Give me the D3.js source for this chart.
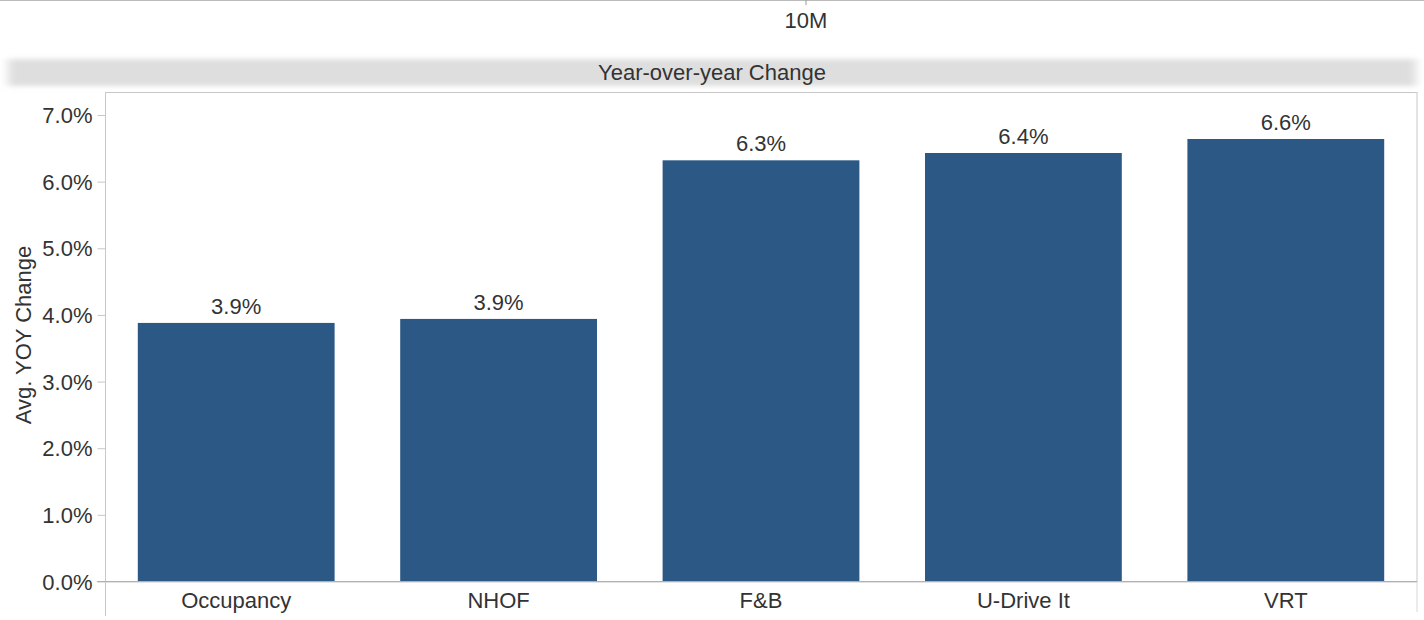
<!DOCTYPE html>
<html><head><meta charset="utf-8">
<script src="https://cdn.jsdelivr.net/npm/d3@7"></script>
<style>body{margin:0;background:#fff;}svg{display:block;font-family:Arial,"Liberation Sans",sans-serif;}</style>
</head><body>
<svg id="c" width="1424" height="620"></svg>
<script>
const categories = ["Occupancy","NHOF","F&B","U-Drive It","VRT"];
const values = [0.0388, 0.0394, 0.0632, 0.0643, 0.0664];
const yTicks = [0,0.01,0.02,0.03,0.04,0.05,0.06,0.07];
const title = "Year-over-year Change";
const yTitle = "Avg. YOY Change";
const topAxisLabel = "10M";

const svg = d3.select("#c");
const W = 1424, H = 620;
const L = 105, R = 1417, T = 92, B = 581.5;
const textColor = "#333";

// top remnant axis
svg.append("line").attr("x1",0).attr("x2",W).attr("y1",0.5).attr("y2",0.5).attr("stroke","#bbb");
svg.append("line").attr("x1",806).attr("x2",806).attr("y1",0).attr("y2",5).attr("stroke","#999");
svg.append("text").attr("x",806).attr("y",28).attr("text-anchor","middle").attr("font-size",22).attr("fill",textColor).text(topAxisLabel);

// header band
const defs = svg.append("defs");
defs.append("filter").attr("id","blur").attr("x","-5%").attr("y","-50%").attr("width","110%").attr("height","200%")
  .append("feGaussianBlur").attr("stdDeviation","5 2.5");
svg.append("rect").attr("x",8).attr("y",59).attr("width",W-16).attr("height",27).attr("fill","#dedede").attr("filter","url(#blur)");
svg.append("text").attr("x",W/2).attr("y",80).attr("text-anchor","middle").attr("font-size",22).attr("fill",textColor).text(title);

const x = d3.scaleBand().domain(categories).range([L,R]).paddingInner(0.25).paddingOuter(0.125);
const y = d3.scaleLinear().domain([0,0.07]).range([B,115]);

// frame
svg.append("rect").attr("x",L+0.5).attr("y",T+0.5).attr("width",R-L-0.5).attr("height",B-T).attr("fill","none").attr("stroke","#c8c8c8");
svg.append("line").attr("x1",L+0.5).attr("x2",L+0.5).attr("y1",B).attr("y2",616).attr("stroke","#c8c8c8");
svg.append("line").attr("x1",R).attr("x2",R).attr("y1",B).attr("y2",612).attr("stroke","#d8d8d8");

// bars
svg.append("g").selectAll("rect").data(categories).join("rect")
  .attr("x",d=>x(d)).attr("width",x.bandwidth())
  .attr("y",(d,i)=>y(values[i])).attr("height",(d,i)=>B-y(values[i]))
  .attr("fill","#2c5886");

// value labels
svg.append("g").selectAll("text").data(categories).join("text")
  .attr("x",d=>x(d)+x.bandwidth()/2).attr("y",(d,i)=>y(values[i])-9)
  .attr("text-anchor","middle").attr("font-size",22).attr("fill",textColor)
  .text((d,i)=>d3.format(".1%")(values[i]));

// y axis
const ya = svg.append("g").attr("transform",`translate(${L+0.5},0)`)
  .call(d3.axisLeft(y).tickValues(yTicks).tickFormat(d3.format(".1%")).tickSize(8).tickPadding(5));
ya.select(".domain").remove();
ya.selectAll(".tick line").attr("stroke","#c8c8c8");
ya.selectAll(".tick text").attr("font-size",22).attr("fill",textColor).attr("font-family","Arial, 'Liberation Sans', sans-serif").attr("dy","0.35em");

// x axis baseline
svg.append("line").attr("x1",97).attr("x2",R).attr("y1",B).attr("y2",B).attr("stroke","#b0b0b0");

// x labels
const xa = svg.append("g").attr("transform",`translate(0,${B})`)
  .call(d3.axisBottom(x).tickSize(0).tickPadding(0));
xa.select(".domain").remove();
xa.selectAll(".tick text").attr("font-size",22).attr("fill",textColor).attr("font-family","Arial, 'Liberation Sans', sans-serif").attr("dy",0).attr("y",26);

// y title
svg.append("text").attr("transform","translate(31,335) rotate(-90)").attr("text-anchor","middle")
  .attr("font-size",22).attr("fill",textColor).text(yTitle);
</script>
</body></html>
